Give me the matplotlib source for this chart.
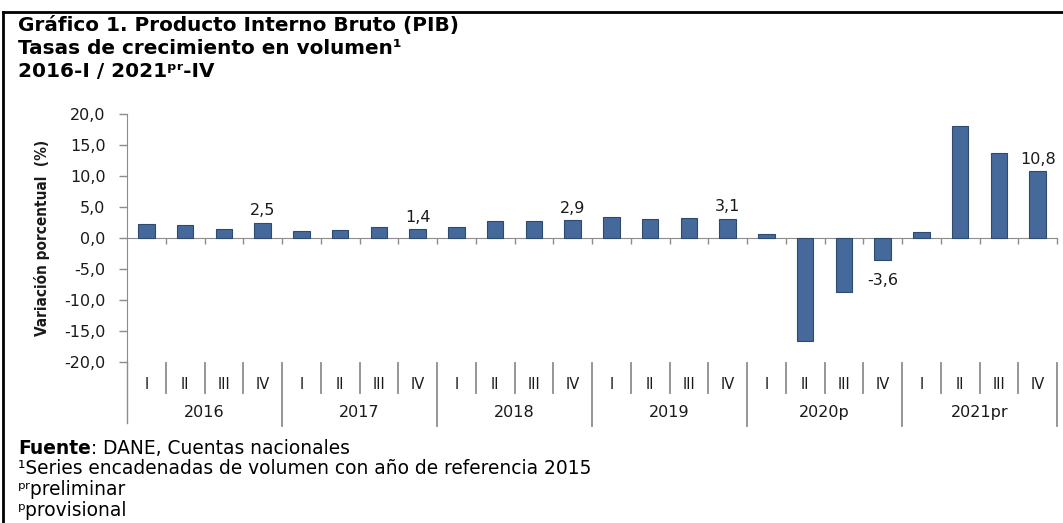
import matplotlib
matplotlib.use("Agg")
import matplotlib.pyplot as plt
from matplotlib.ticker import FuncFormatter, FixedLocator
from matplotlib.lines import Line2D

# ----------------------------------------------
# Data
# ----------------------------------------------
years = ["2016", "2017", "2018", "2019", "2020p", "2021pr"]
quarters = ["I", "II", "III", "IV"]
growth = [
    2.3, 2.1, 1.5, 2.5,      # 2016
    1.1, 1.3, 1.7, 1.4,      # 2017
    1.7, 2.8, 2.8, 2.9,      # 2018
    3.4, 3.1, 3.2, 3.1,      # 2019
    0.7, -16.6, -8.7, -3.6,  # 2020p
    0.9, 18.1, 13.7, 10.8,   # 2021pr
]
labelled = [3, 7, 11, 15, 19, 23]   # the bars that carry a value label

plt.rcParams["font.family"] = ["DejaVu Sans"]
BAR = "#45699A"
GRAY = "#8C8C8C"
TXT = "#1A1A1A"

W, H = 1063, 523
fig = plt.figure(figsize=(W / 100, H / 100), dpi=100)

def fx(px):
    return px / W

def fy(py):
    return 1 - py / H

# outer frame (left and top only)
fig.add_artist(Line2D([fx(2.5), fx(2.5)], [0, fy(12)], color="black", lw=2))
fig.add_artist(Line2D([fx(2.5), 1], [fy(12), fy(12)], color="black", lw=2))

# ----------------------------------------------
# Titles
# ----------------------------------------------
title_lines = ["Gráfico 1. Producto Interno Bruto (PIB)",
               "Tasas de crecimiento en volumen¹",
               "2016-I / 2021ᵖʳ-IV"]
for k, line in enumerate(title_lines):
    fig.text(fx(18), fy(31 + 23 * k), line, fontsize=14.4, fontweight="bold",
             color="black", va="baseline", ha="left")

# ----------------------------------------------
# Axes
# ----------------------------------------------
ax = fig.add_axes([fx(127), fy(362), fx(1057) - fx(127), fy(114) - fy(362)])
n = len(growth)
x = list(range(n))
ax.bar(x, growth, width=0.42, color=BAR, edgecolor="#2E4A6E", linewidth=0.8, zorder=3)

ax.set_xlim(-0.5, n - 0.5)
ax.set_ylim(-20, 20)
ax.set_yticks([20, 15, 10, 5, 0, -5, -10, -15, -20])
ax.yaxis.set_major_formatter(FuncFormatter(lambda v, p: f"{v:.1f}".replace(".", ",")))
ax.tick_params(axis="y", direction="out", length=5.5, width=1, color=GRAY,
               labelsize=11.5, labelcolor=TXT, pad=10)

for s in ["top", "right"]:
    ax.spines[s].set_visible(False)
ax.spines["left"].set_color(GRAY)
ax.spines["left"].set_bounds(-20, 20)
ax.spines["bottom"].set_position(("data", 0))
ax.spines["bottom"].set_color(GRAY)
ax.xaxis.set_major_locator(FixedLocator([i + 0.5 for i in range(n)]))
ax.tick_params(axis="x", direction="out", length=4, width=1, color=GRAY,
               labelbottom=False)

ax.set_ylabel("Variación porcentual  (%)", fontsize=11, fontweight="bold",
              fontstretch="condensed", color=TXT)
ax.yaxis.set_label_coords(-0.083, 0.5)

# value labels
for i in labelled:
    v = growth[i]
    off = 8.5 if v >= 0 else -14.5
    ax.annotate(f"{v:.1f}".replace(".", ","), (i, v), xytext=(0, off),
                textcoords="offset points", ha="center", va="center",
                fontsize=11.5, color=TXT)

# ----------------------------------------------
# Two-level category axis below the plot
# ----------------------------------------------
ax.plot([-0.5, -0.5], [-20, -29.8], color=GRAY, lw=1, clip_on=False)
for i in range(n):
    ax.text(i, -23.7, quarters[i % 4], ha="center", va="center",
            fontsize=10.5, color=TXT, clip_on=False)
    right = i + 0.5
    if (i + 1) % 4 == 0:
        ax.plot([right, right], [-20.2, -30.3], color=GRAY, lw=1.3, clip_on=False)
    else:
        ax.plot([right, right], [-20.2, -25.0], color=GRAY, lw=1.3, clip_on=False)
for j, yr in enumerate(years):
    ax.text(4 * j + 1.5, -28.2, yr, ha="center", va="center",
            fontsize=11.5, color=TXT, clip_on=False)

# ----------------------------------------------
# Footnotes
# ----------------------------------------------
renderer = fig.canvas.get_renderer()
src = fig.text(fx(18), fy(454), "Fuente", fontsize=13.4, fontweight="bold", va="baseline")
bb = src.get_window_extent(renderer)
fig.text(bb.x1 / W, fy(454), ": DANE, Cuentas nacionales", fontsize=13.4, va="baseline")
notes = ["¹Series encadenadas de volumen con año de referencia 2015",
         "ᵖʳpreliminar",
         "ᵖprovisional"]
for k, line in enumerate(notes):
    fig.text(fx(18), fy(474 + 21 * k), line, fontsize=13.4, va="baseline")

fig.savefig("out.png", dpi=100)
